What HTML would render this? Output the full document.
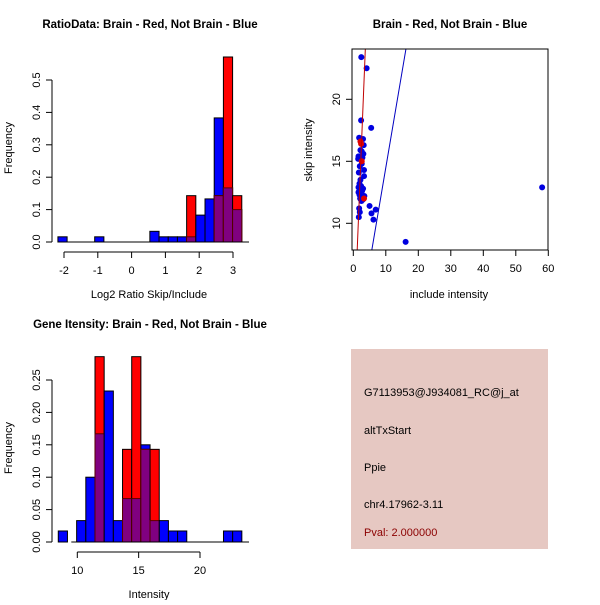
<!DOCTYPE html>
<html><head><meta charset="utf-8"><style>
body{margin:0;background:#fff}
svg text{font-family:"Liberation Sans",sans-serif;font-size:11px;fill:#000}
.t{font-weight:bold;font-size:11.5px}
</style></head><body>
<svg id="s" width="600" height="600" xmlns="http://www.w3.org/2000/svg">
<rect width="600" height="600" fill="#fff"/>
<g id="g1"></g>
<g id="g2"></g>
<g id="g3"></g>
<g>
<rect x="351" y="349" width="197" height="200" fill="#e6c8c2"/>
<text x="364" y="396">G7113953@J934081_RC@j_at</text>
<text x="364" y="434">altTxStart</text>
<text x="364" y="471">Ppie</text>
<text x="364" y="508">chr4.17962-3.11</text>
<text x="364" y="536" style="fill:#8b0000">Pval: 2.000000</text>
</g>
</svg>
<script>
const ratioStart=-2.18, ratioWidth=0.272;
const ratioBlue=[0.016,0,0,0,0.016,0,0,0,0,0,0.033,0.016,0.016,0.016,0.016,0.083,0.133,0.383,0.167,0.1];
const ratioRed=[0,0,0,0,0,0,0,0,0,0,0,0,0,0,0.143,0,0,0.143,0.571,0.143];
const ratioXTicks=[-2,-1,0,1,2,3];
const ratioYTicks=["0.0","0.1","0.2","0.3","0.4","0.5"];
const geneStart=8.45, geneWidth=0.748;
const geneBlue=[0.017,0,0.033,0.1,0.167,0.233,0.033,0.067,0.067,0.15,0.033,0.033,0.017,0.017,0,0,0,0,0.017,0.017];
const geneRed=[0,0,0,0,0.286,0,0,0.143,0.286,0.143,0.143,0,0,0,0,0,0,0,0,0];
const geneXTicks=[10,15,20];
const geneYTicks=["0.00","0.05","0.10","0.15","0.20","0.25"];
const blueInclude=[2.46,4.1,2.4,5.5,16.1,58.1,5.0,5.6,6.9,6.2,3.3,3.3,1.8,2.2,3.0,3.2,1.6,1.5,2.0,2.6,3.1,2.8,1.7,1.9,2.3,2.7,3.4,1.6,2.1,2.5,2.9,1.8,2.0,1.7,2.4,3.0,2.2,1.9,2.6,1.6];
const blueSkip=[23.4,22.5,18.3,17.7,8.5,12.9,11.4,10.8,11.1,10.3,14.3,13.8,16.9,15.9,16.8,16.3,15.4,15.2,14.6,14.8,15.6,15.3,14.1,13.2,12.9,12.6,12.2,12.5,12.0,11.8,11.9,11.2,10.9,10.5,13.0,12.8,13.5,12.3,15.8,12.9];
const redInclude=[2.2,2.4,2.6,3.3];
const redSkip=[16.6,16.4,15.0,12.0];
const redLineX=[1.2,3.7], redLineY=[7.85,24.06];
const blueLineX=[5.7,16.2], blueLineY=[7.85,24.06];
const scXTicks=[0,10,20,30,40,50,60];
const scYTicks=[10,15,20];
const NS="http://www.w3.org/2000/svg";
function mk(p,t,a,txt){const e=document.createElementNS(NS,t);for(const k in a)e.setAttribute(k,a[k]);if(txt!==undefined)e.textContent=txt;p.appendChild(e);return e;}
function hist(g,o){
 const X=v=>o.x0+(v-o.xv0)*o.xs, Y=v=>o.y0-v*o.ys;
 o.red.forEach((r,i)=>{const b=o.blue[i];const l=X(o.start+i*o.w),rr=X(o.start+(i+1)*o.w);
  if(b>0){const e=mk(g,'rect',{x:l,y:Y(b),width:rr-l,height:Y(0)-Y(b),fill:'#0000ff',stroke:'#000','stroke-width':1});
   
   }
  if(r>0){const e=mk(g,'rect',{x:l,y:Y(r),width:rr-l,height:Y(0)-Y(r),fill:'#ff0000',stroke:'#000','stroke-width':1});
   
   }
  const m=Math.min(r,b);if(m>0){const e=mk(g,'rect',{x:l,y:Y(m),width:rr-l,height:Y(0)-Y(m),fill:'#800080',stroke:'#5a0000','stroke-width':1});
   
   }
 });
 mk(g,'line',{x1:o.x0-6,x2:o.axEnd,y1:Y(0),y2:Y(0),stroke:'#000'});
 const yt=o.yt;mk(g,'line',{x1:o.yax,x2:o.yax,y1:Y(0),y2:Y(parseFloat(yt[yt.length-1])),stroke:'#000'});
 yt.forEach(t=>{const v=parseFloat(t);mk(g,'line',{x1:o.yax-6,x2:o.yax,y1:Y(v),y2:Y(v),stroke:'#000'});
  const e=mk(g,'text',{x:o.yax-12,y:Y(v),'text-anchor':'middle',transform:`rotate(-90 ${o.yax-12} ${Y(v)})`},t);
  
  });
 const xt=o.xt,ay=o.y0+10;mk(g,'line',{x1:X(xt[0]),x2:X(xt[xt.length-1]),y1:ay,y2:ay,stroke:'#000'});
 xt.forEach(t=>{mk(g,'line',{x1:X(t),x2:X(t),y1:ay,y2:ay+6,stroke:'#000'});
  const e=mk(g,'text',{x:X(t),y:ay+22,'text-anchor':'middle'},String(t));
  
  });
}
const g1=document.getElementById('g1');
hist(g1,{x0:64,xv0:-2,xs:33.8,y0:242,ys:324,start:ratioStart,w:ratioWidth,red:ratioRed,blue:ratioBlue,yt:ratioYTicks,xt:ratioXTicks,yax:52,axEnd:249});
mk(g1,'text',{x:150,y:28,'text-anchor':'middle',class:'t'},'RatioData: Brain - Red, Not Brain - Blue');
mk(g1,'text',{x:149,y:298,'text-anchor':'middle'},'Log2 Ratio Skip/Include');
mk(g1,'text',{x:12,y:148,'text-anchor':'middle',transform:'rotate(-90 12 148)'},'Frequency');
const g3=document.getElementById('g3');
hist(g3,{x0:77.3,xv0:10,xs:12.27,y0:542,ys:648,start:geneStart,w:geneWidth,red:geneRed,blue:geneBlue,yt:geneYTicks,xt:geneXTicks,yax:52,axEnd:249});
mk(g3,'text',{x:150,y:328,'text-anchor':'middle',class:'t'},'Gene Itensity: Brain - Red, Not Brain - Blue');
mk(g3,'text',{x:149,y:598,'text-anchor':'middle'},'Intensity');
mk(g3,'text',{x:12,y:448,'text-anchor':'middle',transform:'rotate(-90 12 448)'},'Frequency');
const g2=document.getElementById('g2');
const SX=v=>353.3+v*3.25, SY=v=>223.3-(v-10)*12.4;
const cp=mk(g2,'clipPath',{id:'cp'});mk(cp,'rect',{x:352,y:49,width:196,height:201});
const pg=mk(g2,'g',{'clip-path':'url(#cp)'});
blueInclude.forEach((x,i)=>{const e=mk(pg,'circle',{cx:SX(x),cy:SY(blueSkip[i]),r:3,fill:'#0000e0'});
 
 });
redInclude.forEach((x,i)=>{const e=mk(pg,'circle',{cx:SX(x),cy:SY(redSkip[i]),r:3,fill:'#e00000'});
 
 });
let e=mk(pg,'line',{x1:SX(redLineX[0]),y1:SY(redLineY[0]),x2:SX(redLineX[1]),y2:SY(redLineY[1]),stroke:'#c00000','stroke-width':1});


e=mk(pg,'line',{x1:SX(blueLineX[0]),y1:SY(blueLineY[0]),x2:SX(blueLineX[1]),y2:SY(blueLineY[1]),stroke:'#0000c0','stroke-width':1});


mk(g2,'rect',{x:352,y:49,width:196,height:201,fill:'none',stroke:'#000'});
scXTicks.forEach(t=>{mk(g2,'line',{x1:SX(t),x2:SX(t),y1:250,y2:256,stroke:'#000'});
 const e=mk(g2,'text',{x:SX(t),y:272,'text-anchor':'middle'},String(t));
 
 });
scYTicks.forEach(t=>{mk(g2,'line',{x1:346,x2:352,y1:SY(t),y2:SY(t),stroke:'#000'});
 const e=mk(g2,'text',{x:340,y:SY(t),'text-anchor':'middle',transform:`rotate(-90 340 ${SY(t)})`},String(t));
 
 });
mk(g2,'text',{x:450,y:28,'text-anchor':'middle',class:'t'},'Brain - Red, Not Brain - Blue');
mk(g2,'text',{x:449,y:298,'text-anchor':'middle'},'include intensity');
mk(g2,'text',{x:312,y:150,'text-anchor':'middle',transform:'rotate(-90 312 150)'},'skip intensity');
</script>
</body></html>
